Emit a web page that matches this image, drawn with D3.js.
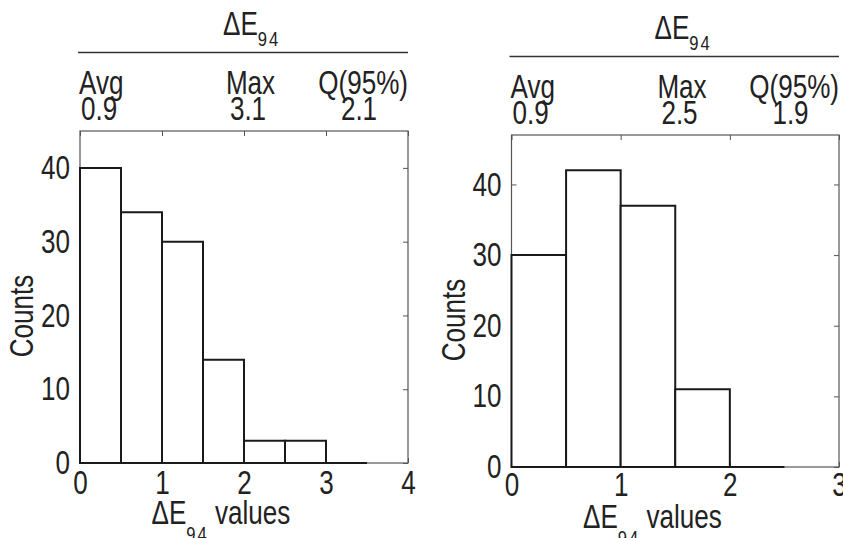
<!DOCTYPE html>
<html>
<head>
<meta charset="utf-8">
<script src="https://cdn.jsdelivr.net/npm/d3@7"></script>
<style>
  body { margin: 0; background: #fff; }
  svg text { font-family: "Liberation Sans", Arial, sans-serif; fill: #222; }
</style>
</head>
<body>
<svg id="chart" width="843" height="538"></svg>
<script>
// histogram bins (edges) and counts
const edgesA = [0, 0.5, 1, 1.5, 2, 2.5, 3, 3.5];
const countsA = [40, 34, 30, 14, 3, 3, 0];
const edgesB = [0, 0.5, 1, 1.5, 2, 2.5];
const countsB = [30, 42, 37, 11, 0];

// summary table above each histogram
const statNames = ['Avg', 'Max', 'Q(95%)'];
const statsA = ['0.9', '3.1', '2.1'];
const statsB = ['0.9', '2.5', '1.9'];

const xTicksA = [0, 1, 2, 3, 4];
const xTicksB = [0, 1, 2, 3];
const yTicks = [0, 10, 20, 30, 40];

const FS = 33;
const SUB = 21;
// no narrow font installed, so squeeze text horizontally
const SX = 0.79;

const panels = [
  { edges: edgesA, counts: countsA, stats: statsA, xTicks: xTicksA, xMax: 4, yMax: 45,
    left: 80, top: 131, width: 328, height: 332, tickPad: 8 },
  { edges: edgesB, counts: countsB, stats: statsB, xTicks: xTicksB, xMax: 3, yMax: 47,
    left: 511.5, top: 135, width: 327.5, height: 332, tickPad: 6 },
];

const svg = d3.select('#chart');

function label(parent, x, y, anchor, extra) {
  return parent.append('text')
    .attr('transform', `translate(${x},${y}) ${extra || ''} scale(${SX},1)`)
    .attr('text-anchor', anchor)
    .attr('font-size', FS);
}

function styleAxis(sel) {
  sel.select('.domain').remove();
  sel.selectAll('.tick line').attr('stroke', '#555').attr('stroke-width', 1);
  sel.selectAll('.tick text').each(function() {
    const t = d3.select(this);
    t.attr('x', (+t.attr('x') || 0) / SX)
      .attr('transform', `scale(${SX},1)`)
      .attr('font-size', FS)
      .attr('font-family', null)
      .attr('fill', '#222');
  });
}

function drawPanel(p) {
  const { width, height } = p;
  const g = svg.append('g').attr('transform', `translate(${p.left},${p.top})`);

  const xScale = d3.scaleLinear().domain([0, p.xMax]).range([0, width]);
  const yScale = d3.scaleLinear().domain([0, p.yMax]).range([height, 0]);

  // box
  g.append('rect')
    .attr('width', width)
    .attr('height', height)
    .attr('fill', 'none')
    .attr('stroke', '#555')
    .attr('stroke-width', 1.2);

  // ticks point inward on all four sides
  g.append('g')
    .attr('transform', `translate(0,${height})`)
    .call(d3.axisBottom(xScale).tickValues(p.xTicks).tickSize(-5).tickPadding(p.tickPad).tickFormat(d3.format('d')))
    .call(styleAxis);
  g.append('g')
    .call(d3.axisTop(xScale).tickValues(p.xTicks).tickSize(-5).tickFormat(''))
    .call(styleAxis);
  g.append('g')
    .call(d3.axisLeft(yScale).tickValues(yTicks).tickSize(-5).tickPadding(10).tickFormat(d3.format('d')))
    .call(styleAxis);
  g.append('g')
    .attr('transform', `translate(${width},0)`)
    .call(d3.axisRight(yScale).tickValues(yTicks).tickSize(-5).tickFormat(''))
    .call(styleAxis);

  // bars (paths, so that an empty bin still shows along the baseline)
  const bins = p.counts.map((c, i) => ({ x0: p.edges[i], x1: p.edges[i + 1], count: c }));
  g.selectAll('.bar')
    .data(bins)
    .enter()
    .append('path')
    .classed('bar', true)
    .attr('d', d => {
      const x0 = xScale(d.x0), x1 = xScale(d.x1);
      const y0 = yScale(0), y1 = yScale(d.count);
      return `M${x0},${y0}V${y1}H${x1}V${y0}Z`;
    })
    .attr('fill', '#fff')
    .attr('stroke', '#1a1a1a')
    .attr('stroke-width', 2);

  // header: ΔE94 with a rule and the stats table
  const title = label(g, 143, -96, 'start');
  title.append('tspan').text('ΔE');
  title.append('tspan')
    .attr('dy', 11)
    .attr('font-size', SUB)
    .attr('letter-spacing', 2.5)
    .text('94');

  g.append('line')
    .attr('x1', -2)
    .attr('x2', width)
    .attr('y1', -78.5)
    .attr('y2', -78.5)
    .attr('stroke', '#333')
    .attr('stroke-width', 1.5);

  const nameX = [-1, 170.5, width];
  const nameAnchor = ['start', 'middle', 'end'];
  statNames.forEach((d, i) => {
    label(g, nameX[i], -37, nameAnchor[i]).classed('stat-name', true).text(d);
  });

  const valX = [1, 168, 279];
  const valAnchor = ['start', 'middle', 'middle'];
  p.stats.forEach((d, i) => {
    label(g, valX[i], -11, valAnchor[i]).classed('stat-val', true).text(d);
  });

  // axis labels
  const xLabel = label(g, 71.5, height + 61, 'start');
  xLabel.append('tspan').text('ΔE');
  xLabel.append('tspan')
    .attr('dy', 17)
    .attr('font-size', SUB)
    .attr('letter-spacing', 2.5)
    .text('94');
  xLabel.append('tspan')
    .attr('dy', -17)
    .attr('dx', 8)
    .text('values');

  label(g, -47, 185, 'middle', 'rotate(-90)').text('Counts');
}

panels.forEach(drawPanel);
</script>
</body>
</html>
